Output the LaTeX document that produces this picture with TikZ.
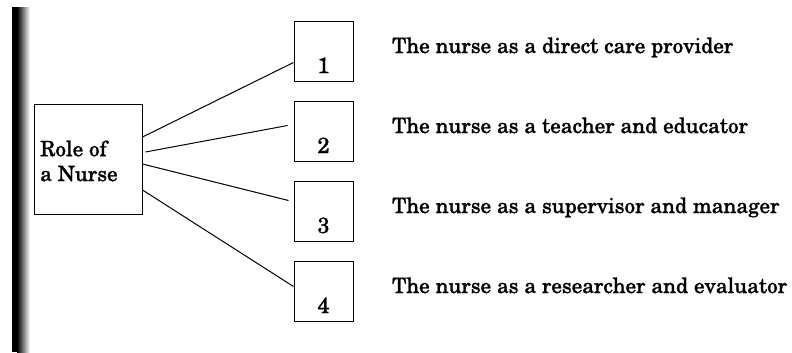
\documentclass[tikz,border=0pt]{standalone}
\usepackage[T1]{fontenc}
\usepackage{newcent}
\begin{document}
\begin{tikzpicture}[x=1bp, y=-1bp,
  numbox/.style={draw, line width=1bp, minimum width=59bp, minimum height=60bp, inner sep=0pt},
  rolebox/.style={draw, line width=1bp, minimum width=107bp, minimum height=110bp, inner sep=0pt},
  link/.style={line width=1bp},
  txt/.style={font=\fontsize{21.2}{25}\selectfont, inner sep=0pt,
    execute at begin node={\special{pdf:literal direct 2 Tr 0.25 w}},
    execute at end node={\special{pdf:literal direct 0 Tr}}},
  numtxt/.style={txt, font=\fontsize{22}{26}\selectfont}]
\useasboundingbox (0,0) rectangle (792,352);
% scanned edge
\fill[black] (12,7) rectangle (17,352);
\shade[left color=black, right color=white] (17,7) rectangle (30,352);
\node[rolebox] (nurse) at (88.5,159) {};
\node[txt, anchor=west, align=left] (nursetext) at (40,161) {Role of\\a Nurse};
\foreach \i/\t in {1/direct care provider, 2/teacher and educator, 3/supervisor and manager, 4/researcher and evaluator} {
  \node[numbox] (box\i) at (323.5,{51.5+80*(\i-1)}) {};
  \node[numtxt, anchor=base] (num\i) at (323.5,{73+80*(\i-1)}) {\i};
  \node[txt, anchor=base west] (role\i) at (392,{53+80*(\i-1)}) {The nurse as a \t};
}
\draw[link] ([yshift=22bp]nurse.east) -- ([yshift=-11bp]box1.west);
\draw[link] ([xshift=3bp,yshift=7bp]nurse.east) -- ([xshift=-6bp,yshift=6bp]box2.west);
\draw[link] ([yshift=-5bp]nurse.east) -- ([xshift=-5bp,yshift=11bp]box3.west);
\draw[link] ([yshift=-31bp]nurse.east) -- ([yshift=5bp]box4.west);
\end{tikzpicture}
\end{document}
